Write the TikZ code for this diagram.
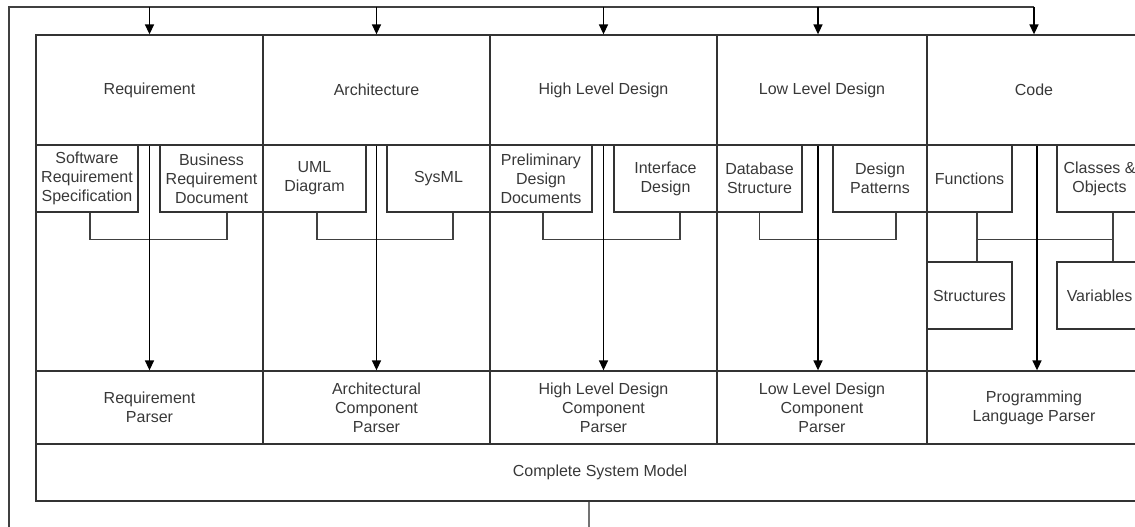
\documentclass[tikz,border=0pt]{standalone}
\usepackage{fontspec}
\setmainfont{Liberation Sans}
\usetikzlibrary{arrows.meta}

\begin{document}
\begin{tikzpicture}[
  x=1pt, y=-1pt,
  box/.style={rectangle, draw=black!80, line width=1.3pt, text=black!78, align=center, inner sep=1pt,
    font=\fontsize{16}{19}\selectfont},
  head/.style={box, minimum width=227pt, minimum height=110pt},
  sub/.style={box, minimum height=67pt},
  parser/.style={box, minimum width=227pt, minimum height=73pt},
  frame/.style={draw=black!80, line width=1.3pt},
  link/.style={draw=black!75, line width=1.3pt},
  flow/.style={draw=black, line width=1.5pt, -{Triangle[length=10pt,width=9pt]}}
]
\useasboundingbox (0,0) rectangle (1135,527);
\clip (0,0) rectangle (1135,527);

% Column bodies
\draw[frame] (36,145) rectangle (263,371);
\draw[frame] (263,145) rectangle (490,371);
\draw[frame] (490,145) rectangle (717,371);
\draw[frame] (717,145) rectangle (927,371);
\draw[frame] (927,145) rectangle (1141,371);

% Column headers
\node[head] (req) at (149.5,90) {Requirement};
\node[head] (arch) at (376.5,90) {Architecture};
\node[head] (hld) at (603.5,90) {High Level Design};
\node[head, minimum width=210pt] (lld) at (822,90) {Low Level Design};
\node[head, minimum width=214pt] (code) at (1034,90) {Code};

% Artefacts under each header
\node[sub, minimum width=102pt] (srs) at (87,178.5) {Software\\Requirement\\Specification};
\node[sub, minimum width=103pt] (brd) at (211.5,178.5) {Business\\Requirement\\Document};
\node[sub, minimum width=103pt] (uml) at (314.5,178.5) {UML\\Diagram};
\node[sub, minimum width=103pt] (sysml) at (438.5,178.5) {SysML};
\node[sub, minimum width=102pt] (pdd) at (541,178.5) {Preliminary\\Design\\Documents};
\node[sub, minimum width=103pt] (ifd) at (665.5,178.5) {Interface\\Design};
\node[sub, minimum width=85pt] (dbs) at (759.5,178.5) {Database\\Structure};
\node[sub, minimum width=94pt] (dpat) at (880,178.5) {Design\\Patterns};
\node[sub, minimum width=85pt] (func) at (969.5,178.5) {Functions};
\node[sub, minimum width=85pt] (cls) at (1099.5,178.5) {Classes \&\\Objects};
\node[sub, minimum width=85pt] (struct) at (969.5,295.5) {Structures};
\node[sub, minimum width=85pt] (var) at (1099.5,295.5) {Variables};

% Parsers
\node[parser] (reqp) at (149.5,407.5) {Requirement\\Parser};
\node[parser] (archp) at (376.5,407.5) {Architectural\\Component\\Parser};
\node[parser] (hldp) at (603.5,407.5) {High Level Design\\Component\\Parser};
\node[parser, minimum width=210pt] (lldp) at (822,407.5) {Low Level Design\\Component\\Parser};
\node[parser, minimum width=214pt] (langp) at (1034,407.5) {Programming\\Language Parser};

% System model
\node[box, minimum width=1128pt, minimum height=57pt] (model) at (600,472.5) {Complete System Model};

% Brackets joining the artefacts
\draw[link] ([xshift=3pt]srs.south) -- ++(0,27) -| ([xshift=15.5pt]brd.south);
\draw[link] ([xshift=2.5pt]uml.south) -- ++(0,27) -| ([xshift=14.5pt]sysml.south);
\draw[link] ([xshift=2pt]pdd.south) -- ++(0,27) -| ([xshift=14.5pt]ifd.south);
\draw[link] (dbs.south) -- ++(0,27) -| ([xshift=16pt]dpat.south);
\draw[link] ([xshift=7.5pt]func.south) -- ([xshift=7.5pt]struct.north);
\draw[link] ([xshift=13.5pt]cls.south) -- ([xshift=13.5pt]var.north);
\draw[link] ([xshift=7.5pt,yshift=-27pt]func.south) -- ([xshift=13.5pt,yshift=-27pt]cls.south);

% Header to parser
\draw[flow] (req.south) -- (reqp.north);
\draw[flow] (arch.south) -- (archp.north);
\draw[flow] (hld.south) -- (hldp.north);
\draw[flow] ([xshift=-4pt]lld.south) -- ([xshift=-4pt]lldp.north);
\draw[flow] ([xshift=3pt]code.south) -- ([xshift=3pt]langp.north);

% Feedback loop
\coordinate (loopB) at (9,527);
\coordinate (loopL) at (9,7);
\coordinate (out) at (589,527);
\draw[link] (loopB) -- (loopL) -- (code.north |- loopL);
\draw[link, draw=black!55] ([xshift=-11pt]model.south) -- (out);
\draw[flow] (req.north |- loopL) -- (req.north);
\draw[flow] (arch.north |- loopL) -- (arch.north);
\draw[flow] (hld.north |- loopL) -- (hld.north);
\draw[flow] ([xshift=-4pt]lld.north |- loopL) -- ([xshift=-4pt]lld.north);
\draw[flow] (code.north |- loopL) -- (code.north);
\end{tikzpicture}
\end{document}
